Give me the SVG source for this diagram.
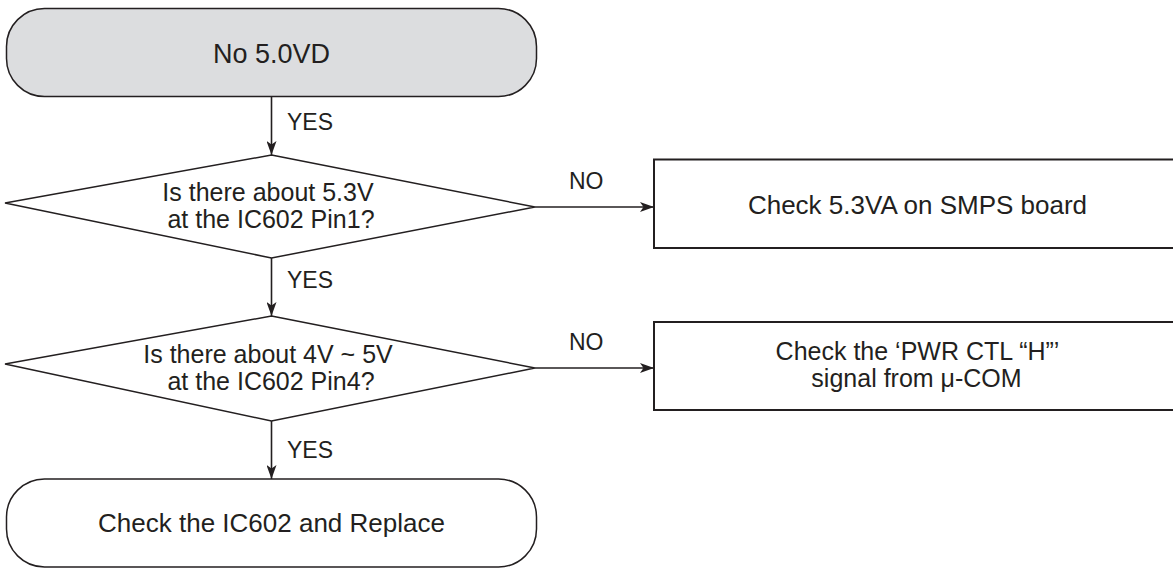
<svg xmlns="http://www.w3.org/2000/svg" width="1173" height="568" viewBox="0 0 1173 568">
<defs>
<style>
.t{font-family:"Liberation Sans",Arial,Helvetica,sans-serif;fill:#231f20;}
.m{font-size:26px;text-anchor:middle;}
.s{font-size:25px;}
.l{font-size:23px;}
.shape{stroke:#231f20;stroke-width:1.5;}
.box{fill:#ffffff;stroke:#231f20;stroke-width:2;}
.conn{stroke:#231f20;stroke-width:1.6;fill:none;marker-end:url(#ah);}
</style>
<marker id="ah" viewBox="0 0 14 10" refX="14" refY="5" markerWidth="14" markerHeight="10" markerUnits="userSpaceOnUse" orient="auto">
<path d="M0,0 L14,5 L0,10 L3.5,5 Z" fill="#231f20"/>
</marker>
</defs>
<rect width="1173" height="568" fill="#ffffff"/>

<g id="start">
<rect class="shape" x="6.5" y="8.5" width="530" height="88" rx="38" ry="38" fill="#dcdddf"/>
<text class="t m" x="271.5" y="63" style="font-size:27px">No 5.0VD</text>
</g>

<g id="decision1">
<path class="shape" d="M271.5,155 L535,207 L271.5,258 L5,203 Z" fill="#ffffff"/>
<text class="t m s" x="268" y="201">Is there about 5.3V</text>
<text class="t m s" x="271" y="228">at the IC602 Pin1?</text>
</g>

<g id="box1">
<rect class="box" x="654" y="159.5" width="540" height="88.5"/>
<text class="t m" x="917.5" y="214">Check 5.3VA on SMPS board</text>
</g>

<g id="decision2">
<path class="shape" d="M271.5,316 L535,368 L271.5,421 L5,364 Z" fill="#ffffff"/>
<text class="t m s" x="268" y="363">Is there about 4V ~ 5V</text>
<text class="t m s" x="271" y="390">at the IC602 Pin4?</text>
</g>

<g id="box2">
<rect class="box" x="654" y="322" width="540" height="88"/>
<text class="t m s" x="917.5" y="360">Check the ‘PWR CTL “H”’</text>
<text class="t m s" x="916.5" y="387">signal from μ-COM</text>
</g>

<g id="end">
<rect class="shape" x="6.5" y="479" width="530" height="88" rx="38" ry="38" fill="#ffffff"/>
<text class="t m" x="271.5" y="532">Check the IC602 and Replace</text>
</g>

<g id="connectors">
<line class="conn" x1="271.5" y1="97" x2="271.5" y2="155"/>
<line class="conn" x1="271.5" y1="258" x2="271.5" y2="316"/>
<line class="conn" x1="271.5" y1="421" x2="271.5" y2="479"/>
<line class="conn" x1="535" y1="207" x2="654" y2="207"/>
<line class="conn" x1="535" y1="368" x2="654" y2="368"/>
<text class="t l" x="287" y="130">YES</text>
<text class="t l" x="287" y="288">YES</text>
<text class="t l" x="287" y="458">YES</text>
<text class="t l" x="569" y="189">NO</text>
<text class="t l" x="569" y="350">NO</text>
</g>
</svg>
